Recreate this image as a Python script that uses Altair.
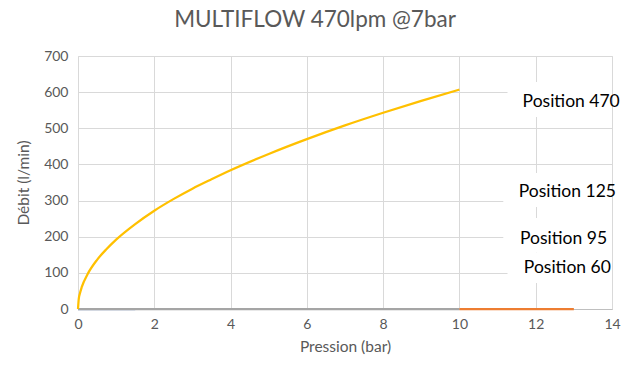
import altair as alt
import pandas as pd

# Curve "Position 470"
p470_x = [0, 0.02, 0.05, 0.1, 0.25, 0.5, 0.75, 1, 1.5, 2, 2.5, 3, 3.5, 4, 5, 6, 7, 8, 9, 10]
p470_y = [0, 28, 43, 61, 96, 136, 166, 192, 235, 272, 304, 333, 359, 384, 429, 470, 508, 543, 576, 607]

# Flat series along zero
blue_x = [0, 1.5]
blue_y = [0, 0]
grey_x = [0, 10]
grey_y = [0, 0]
orange_x = [10, 13]
orange_y = [0, 0]

labels = ["Position 470", "Position 125", "Position 95", "Position 60"]
label_x = [12.93, 12.83, 12.73, 12.83]
label_y = [573, 324, 194, 114]
box_x = [11.26, 11.15, 11.15, 11.26]
box_x2 = [14, 14, 14, 14]
box_y = [628, 376, 252, 157]
box_y2 = [531, 282, 157, 72]

series = pd.concat([
    pd.DataFrame({"x": blue_x, "y": blue_y, "s": "a_blue"}),
    pd.DataFrame({"x": grey_x, "y": grey_y, "s": "b_grey"}),
    pd.DataFrame({"x": orange_x, "y": orange_y, "s": "c_orange"}),
    pd.DataFrame({"x": p470_x, "y": p470_y, "s": "d_gold"}),
])
lab = pd.DataFrame({"t": labels, "x": label_x, "y": label_y,
                    "bx": box_x, "bx2": box_x2, "by": box_y, "by2": box_y2})

xs = alt.Scale(domain=[0, 14], nice=False)
ys = alt.Scale(domain=[0, 700], nice=False)

x_axis = alt.Axis(values=list(range(0, 15, 2)), ticks=False, labelPadding=8,
                  labelFlush=False, labelOverlap=False,
                  domainColor="#bfbfbf", gridColor="#d9d9d9",
                  labelColor="#595959", labelFontSize=14, labelFont="Lato",
                  titleColor="#595959", titleFontSize=15.5, titleFont="Lato",
                  titleFontWeight="normal", titlePadding=8)
y_axis = alt.Axis(values=list(range(0, 701, 100)), ticks=False, domain=False,
                  labelFlush=False, labelOverlap=False,
                  labelPadding=10, gridColor="#d9d9d9",
                  labelColor="#595959", labelFontSize=14, labelFont="Lato",
                  titleColor="#595959", titleFontSize=15.5, titleFont="Lato",
                  titleFontWeight="normal", titlePadding=12)

boxes = alt.Chart(lab).mark_rect(color="white").encode(
    x=alt.X("bx:Q", scale=xs, title="Pression (bar)", axis=x_axis),
    x2="bx2",
    y=alt.Y("by:Q", scale=ys, title="Débit (l/min)", axis=y_axis),
    y2="by2")

lines = alt.Chart(series).mark_line(strokeWidth=2.25, interpolate="monotone").encode(
    x=alt.X("x:Q", scale=xs, title="Pression (bar)", axis=x_axis),
    y=alt.Y("y:Q", scale=ys, title="Débit (l/min)", axis=y_axis),
    color=alt.Color("s:N", legend=None,
                    scale=alt.Scale(domain=["a_blue", "b_grey", "c_orange", "d_gold"],
                                    range=["#8faadc", "#a5a5a5", "#ed7d31", "#ffc000"])),
    order=alt.Order("s:N"),
    detail="s:N",
)

texts = alt.Chart(lab).mark_text(font="Lato", fontSize=17.5, color="#000000",
                                 align="center", baseline="middle").encode(
    x=alt.X("x:Q", scale=xs, title="Pression (bar)", axis=x_axis),
    y=alt.Y("y:Q", scale=ys, title="Débit (l/min)", axis=y_axis),
    text="t:N")

chart = alt.layer(boxes, lines, texts).properties(
    width=534, height=253,
    title=alt.TitleParams("MULTIFLOW 470lpm @7bar", fontSize=22.5, font="Lato",
                          fontWeight="normal", color="#595959", offset=18, dx=-30),
    autosize=alt.AutoSizeParams(type="none"),
    padding={"left": 78, "top": 56, "right": 12, "bottom": 56},
).configure_view(stroke=None).configure(background="white")

chart.save("out.html", embed_options={"renderer": "svg", "actions": False})
